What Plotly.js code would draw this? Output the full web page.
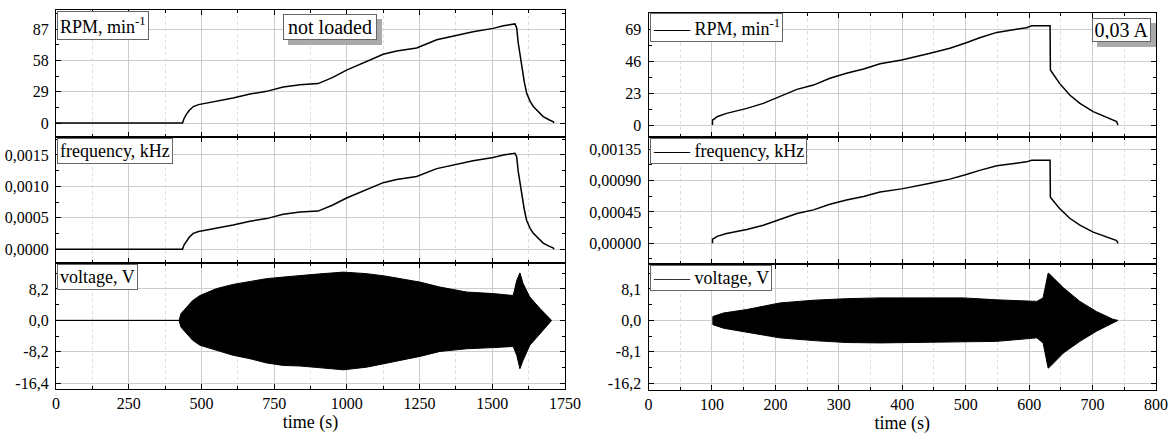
<!DOCTYPE html>
<html>
<head>
<meta charset="utf-8">
<script src="https://cdn.plot.ly/plotly-3.0.1.min.js"></script>
<style>html,body{margin:0;padding:0;background:#fff}#chart{width:1173px;height:436px}</style>
</head>
<body>
<div id="chart"></div>
<script>
// ---- Left panel: not loaded ----
const leftTime = [0,435,440,448,458,472,490,518,609,667,724,781,839,901,950,999,1060,1125,1171,1240,1309,1366,1434,1503,1538,1578,1584,1589,1595,1601,1610,1618,1630,1641,1660,1675,1695,1710,1712];
const leftRPM = [0,0,4,8,11.5,15.2,17,18.4,23.1,26.8,29.3,33.4,35.5,36.5,42,48.9,56,63.6,66.7,69.5,77,80.7,84.5,87.6,90,91.7,88,74.5,63,52.7,38,27.8,20,15.3,9.5,5.9,3,1.2,0];
const leftFreq = [0,0,0.0000667,0.000133,0.000192,0.000253,0.000283,0.000307,0.000385,0.000447,0.000488,0.000557,0.000592,0.000608,0.0007,0.000815,0.000933,0.00106,0.00111,0.001158,0.001283,0.001345,0.001408,0.00146,0.0015,0.001528,0.001467,0.001242,0.00105,0.000878,0.000633,0.000463,0.000333,0.000255,0.000158,0.0000983,0.00005,0.00002,0];
const leftVoltTime = [0,423,430,449,470,495,552,609,667,724,781,839,900,988,1068,1130,1183,1251,1320,1412,1503,1572,1584,1595,1606,1629,1664,1704];
const leftVoltUpper = [0,0,1.8,3.5,5.2,6.5,8.3,9.4,10.2,10.9,11.3,11.6,12.1,12.6,12.2,11.6,10.9,10,8.7,7.4,7.0,6.5,10.4,12.4,9.6,6.1,3.1,0];
const leftVoltLower = [0,0,-1.8,-3.5,-5.2,-6.5,-7.8,-9.1,-10,-11.1,-11.75,-11.9,-12.3,-12.9,-12.2,-11.3,-10.4,-9.4,-8.1,-7.4,-7.1,-6.8,-9.1,-12.6,-10.4,-6.5,-3.5,0];

// ---- Right panel: 0,03 A ----
const rightTime = [100.8,101,104,108,123,155,181,207,234,260,286,312,339,365,399,444,475,501,522,549,575,596,604,633,633.5,648,664,680,701,727,738,740];
const rightRPM = [0,3.6,4.5,6,8.4,12,15.6,20.4,25.7,28.8,33.7,37.3,40.4,44.2,46.9,51.7,55.3,59.3,62.9,66.8,68.5,70.2,71.6,71.6,39.7,30,21.6,15.6,9.6,4.8,2.4,0];
const rightFreq = [0,0.00006,0.000075,0.0001,0.00014,0.0002,0.00026,0.00034,0.000428,0.00048,0.000562,0.000622,0.000673,0.000737,0.000782,0.000862,0.000922,0.000988,0.001048,0.001113,0.001142,0.00117,0.001193,0.001193,0.000662,0.0005,0.00036,0.00026,0.00016,0.00008,0.00004,0];
const rightVoltTime = [101.4,101.5,118,155,207,260,312,365,417,496,549,612,622,630,633,654,680,706,732,740];
const rightVoltUpper = [0,1.0,1.9,2.8,4.5,5.2,5.6,5.8,5.8,5.8,5.3,4.9,5.8,12.2,11.8,8.4,4.9,2.3,0.3,0];
const rightVoltLower = [0,-1.1,-2.0,-3.1,-4.5,-5.2,-5.7,-5.8,-5.7,-5.5,-5.4,-4.5,-5.8,-12.3,-11.9,-8.4,-5.4,-2.8,-0.7,0];

// ---- Tick labels ----
const leftXTicks = [0,250,500,750,1000,1250,1500,1750];
const rightXTicks = [0,100,200,300,400,500,600,700,800];
const leftRPMTicks = [0,29,58,87];
const leftRPMLabels = ['0','29','58','87'];
const leftFreqTicks = [0,0.0005,0.001,0.0015];
const leftFreqLabels = ['0,0000','0,0005','0,0010','0,0015'];
const leftVoltTicks = [-16.4,-8.2,0,8.2];
const leftVoltLabels = ['-16,4','-8,2','0,0','8,2'];
const rightRPMTicks = [0,23,46,69];
const rightRPMLabels = ['0','23','46','69'];
const rightFreqTicks = [0,0.00045,0.0009,0.00135];
const rightFreqLabels = ['0,00000','0,00045','0,00090','0,00135'];
const rightVoltTicks = [-16.2,-8.1,0,8.1];
const rightVoltLabels = ['-16,2','-8,1','0,0','8,1'];

const FONT = 'Liberation Serif';
const W = 1173, H = 436;
const px = v => v / W;
const py = v => 1 - v / H;

const traces = [
  {x:leftTime, y:leftRPM, xaxis:'x', yaxis:'y', mode:'lines', line:{color:'#000', width:1.5}},
  {x:leftTime, y:leftFreq, xaxis:'x2', yaxis:'y2', mode:'lines', line:{color:'#000', width:1.5}},
  {x:leftVoltTime, y:leftVoltUpper, xaxis:'x3', yaxis:'y3', mode:'lines', line:{color:'#000', width:1}},
  {x:leftVoltTime, y:leftVoltLower, xaxis:'x3', yaxis:'y3', mode:'lines', line:{color:'#000', width:1}, fill:'tonexty', fillcolor:'#000'},
  {x:rightTime, y:rightRPM, xaxis:'x4', yaxis:'y4', mode:'lines', line:{color:'#000', width:1.5}},
  {x:rightTime, y:rightFreq, xaxis:'x5', yaxis:'y5', mode:'lines', line:{color:'#000', width:1.5}},
  {x:rightVoltTime, y:rightVoltUpper, xaxis:'x6', yaxis:'y6', mode:'lines', line:{color:'#000', width:1}},
  {x:rightVoltTime, y:rightVoltLower, xaxis:'x6', yaxis:'y6', mode:'lines', line:{color:'#000', width:1}, fill:'tonexty', fillcolor:'#000'}
];
traces.forEach(t => { t.showlegend = false; t.hoverinfo = 'skip'; });

function tf(size) { return {family:FONT, size:size, color:'#000'}; }
function xax(domain, range, minorDtick, anchor, showLabels, tickvals) {
  const a = {
    domain: domain, range: range, anchor: anchor, tickmode:'array', tickvals: tickvals, ticktext: tickvals.map(String),
    showline:true, linecolor:'#000', linewidth:1.3, mirror:'ticks',
    ticks:'inside', ticklen:5, tickwidth:1.2, tickcolor:'#000',
    showgrid:true, gridcolor:'#cdcdcd', gridwidth:1, zeroline:false,
    minor:{dtick:minorDtick, tick0:0, ticks:'inside', ticklen:3, tickwidth:1, tickcolor:'#000', showgrid:true, gridcolor:'#dedede', griddash:'dot', gridwidth:1},
    showticklabels:showLabels, tickfont: tf(16), ticklabelstandoff:0, fixedrange:true
  };
  if (showLabels) a.title = {text:'time (s)', font: tf(18), standoff:2};
  return a;
}
function yax(domain, range, tickvals, ticktext, minorDtick, anchor) {
  return {
    domain: domain, range: range, anchor: anchor, tickmode:'array', tickvals: tickvals, ticktext: ticktext,
    showline:true, linecolor:'#000', linewidth:1.3, mirror:'ticks',
    ticks:'inside', ticklen:5, tickwidth:1.2, tickcolor:'#000',
    showgrid:true, gridcolor:'#cdcdcd', gridwidth:1, zeroline:false,
    minor:{dtick:minorDtick, tick0:0, ticks:'inside', ticklen:3, tickwidth:1, tickcolor:'#000', showgrid:false},
    tickfont: tf(16), ticklabelstandoff:3, fixedrange:true
  };
}

const LX = [px(56), px(565)];
const RX = [px(648.5), px(1156)];
const layout = {
  width:W, height:H,
  margin:{l:0, r:0, t:0, b:0},
  paper_bgcolor:'#fff', plot_bgcolor:'#fff',
  font:{family:FONT, size:16, color:'#000'},
  separators:',.',
  showlegend:false,
  xaxis:  xax(LX, [0,1750], 125, 'y',  false, leftXTicks),
  xaxis2: xax(LX, [0,1750], 125, 'y2', false, leftXTicks),
  xaxis3: xax(LX, [0,1750], 125, 'y3', true,  leftXTicks),
  xaxis4: xax(RX, [0,800], 50, 'y4', false, rightXTicks),
  xaxis5: xax(RX, [0,800], 50, 'y5', false, rightXTicks),
  xaxis6: xax(RX, [0,800], 50, 'y6', true,  rightXTicks),
  yaxis:  yax([py(137), py(10)],  [-12.96, 104.6], leftRPMTicks, leftRPMLabels, 14.5, 'x'),
  yaxis2: yax([py(263), py(137)], [-0.000218, 0.001786], leftFreqTicks, leftFreqLabels, 0.00025, 'x2'),
  yaxis3: yax([py(389), py(263)], [-17.9, 14.98], leftVoltTicks, leftVoltLabels, 4.1, 'x3'),
  yaxis4: yax([py(137), py(12.7)], [-8.65, 81.0], rightRPMTicks, rightRPMLabels, 11.5, 'x4'),
  yaxis5: yax([py(264), py(137)], [-0.000297, 0.001527], rightFreqTicks, rightFreqLabels, 0.000225, 'x5'),
  yaxis6: yax([py(390), py(264)], [-17.93, 14.53], rightVoltTicks, rightVoltLabels, 4.05, 'x6'),
  annotations: [],
  shapes: []
};

function legendBox(xref, yref, text) {
  return {xref: xref + ' domain', yref: yref + ' domain', x:0.002, y:0.995, xanchor:'left', yanchor:'top',
    text: text, showarrow:false, font: tf(18), bgcolor:'#fff', bordercolor:'#666', borderwidth:1, borderpad:2};
}
layout.annotations.push(
  legendBox('x','y','RPM, min<sup>-1</sup>'),
  legendBox('x2','y2','frequency, kHz'),
  legendBox('x3','y3','voltage, V'),
  legendBox('x4','y4','—— RPM, min<sup>-1</sup>'),
  legendBox('x5','y5','—— frequency, kHz'),
  legendBox('x6','y6','<span style="color:#333">——</span> voltage, V')
);
function shadowBox(x0, y0, x1, y1, text) {
  layout.shapes.push({type:'rect', xref:'paper', yref:'paper', layer:'above',
    x0:px(x0 + 5), x1:px(x1 + 5), y0:py(y1 + 5), y1:py(y0 + 5),
    fillcolor:'#aaaaaa', line:{width:0}});
  layout.annotations.push({xref:'paper', yref:'paper', x:px((x0 + x1) / 2), y:py((y0 + y1) / 2),
    xanchor:'center', yanchor:'middle', width:(x1 - x0 - 6), height:(y1 - y0 - 6),
    text: text, showarrow:false, font: tf(20),
    bgcolor:'#fff', bordercolor:'#666', borderwidth:1, borderpad:2});
}
shadowBox(283, 14, 377, 40, 'not loaded');
shadowBox(1092, 18, 1151, 42, '0,03 A');

Plotly.newPlot('chart', traces, layout, {displayModeBar:false});
</script>
</body>
</html>
